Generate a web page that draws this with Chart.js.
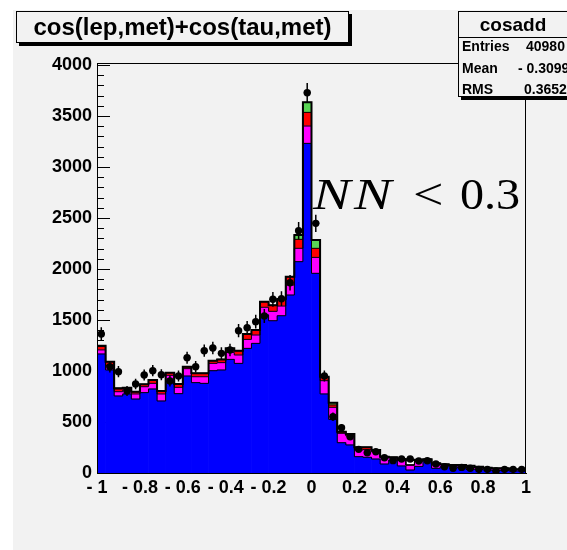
<!DOCTYPE html>
<html><head><meta charset="utf-8">
<script src="https://cdn.jsdelivr.net/npm/chart.js@4.4.0/dist/chart.umd.min.js"></script>
<style>
html,body{margin:0;padding:0;background:#fff;overflow:hidden;}
#wrap{position:relative;width:567px;height:550px;overflow:hidden;}
#c{position:absolute;left:0;top:0;}
.box{position:absolute;border:1px solid #000;background:#f2f2f2;box-shadow:3px 3px 0 #000;box-sizing:border-box;}
.t{position:absolute;font-family:"Liberation Sans",Arial,sans-serif;font-weight:bold;color:#000;line-height:1;white-space:nowrap;}
</style></head><body>
<div id="wrap">
<canvas id="c" width="567" height="550"></canvas>
<div class="box" style="left:16px;top:11px;width:333px;height:32px;"></div>
<div class="t" style="left:16px;top:15px;width:333px;text-align:center;font-size:24px;">cos(lep,met)+cos(tau,met)</div>
<div class="box" style="left:458px;top:11px;width:160px;height:86px;"></div>
<div style="position:absolute;left:458px;top:37px;width:120px;height:1px;background:#000;"></div>
<div class="t" style="left:458px;top:15px;width:110px;text-align:center;font-size:19px;">cosadd</div>
<div class="t" style="left:462px;top:39px;font-size:14px;">Entries</div>
<div class="t" style="left:526px;top:39px;font-size:14px;">40980</div>
<div class="t" style="left:462px;top:61px;font-size:14px;">Mean</div>
<div class="t" style="left:518px;top:61px;font-size:14px;">- 0.3099</div>
<div class="t" style="left:462px;top:82px;font-size:14px;">RMS</div>
<div class="t" style="left:524px;top:82px;font-size:14px;">0.3652</div>
</div>
<script>
const binCenters = [-0.98,-0.94,-0.90,-0.86,-0.82,-0.78,-0.74,-0.70,-0.66,-0.62,-0.58,-0.54,-0.50,-0.46,-0.42,-0.38,-0.34,-0.30,-0.26,-0.22,-0.18,-0.14,-0.10,-0.06,-0.02,0.02,0.06,0.10,0.14,0.18,0.22,0.26,0.30,0.34,0.38,0.42,0.46,0.50,0.54,0.58,0.62,0.66,0.70,0.74,0.78,0.82,0.86,0.90,0.94,0.98];
const blueVals = [1167,1010,755,775,725,788,824,706,899,778,951,886,879,1003,1010,1114,1075,1222,1271,1550,1493,1542,1745,2072,3232,1958,775,526,297,275,160,154,137,88,127,69,29,65,125,46,62,62,50,35,35,30,25,26,20,20];
const magentaVals = [40,45,42,40,50,58,55,69,59,62,72,58,65,72,72,69,82,88,82,75,92,95,98,131,170,156,130,118,92,88,65,75,70,60,20,55,49,50,9,32,18,12,20,17,17,15,15,15,12,12];
const redVals = [33,37,27,22,22,23,33,29,26,33,19,33,33,26,32,39,42,53,49,55,59,69,82,88,134,89,39,23,16,19,27,23,18,12,7,13,0,15,0,17,5,4,8,0,0,7,6,5,4,4];
const greenVals = [7,0,7,0,0,0,0,0,0,0,0,0,0,0,0,0,0,0,0,0,0,0,0,42,98,81,0,23,0,0,0,0,0,0,0,0,0,0,0,0,0,0,0,0,0,0,0,0,0,0];
const whiteVals = [0,0,0,0,0,0,0,0,0,0,0,0,0,0,0,0,0,0,0,0,0,0,0,0,0,0,0,0,0,0,0,0,0,0,0,0,49,0,0,0,0,0,0,20,10,0,0,0,0,0];
const dataVals = [1363,1042,993,804,873,961,1003,964,902,951,1131,1042,1199,1225,1173,1206,1395,1425,1484,1539,1703,1709,1866,2376,3729,2448,951,552,444,356,232,199,209,150,121,137,137,118,120,88,62,46,55,46,36,36,20,36,36,36];
const dataErrs = [65,56,55,50,52,54,55,54,53,54,59,56,60,61,60,61,65,66,67,69,72,72,76,85,95,85,54,41,37,33,27,25,25,21,19,20,20,19,19,16,14,12,13,12,10,10,8,10,10,10];
const xTickValues = [-1,-0.8,-0.6,-0.4,-0.2,0,0.2,0.4,0.6,0.8,1];
const xTickLabels = ['- 1','- 0.8','- 0.6','- 0.4','- 0.2','0','0.2','0.4','0.6','0.8','1'];
const yTickValues = [0,500,1000,1500,2000,2500,3000,3500,4000];

const PAD = '#f2f2f2';
const FONT = '"Liberation Sans", Arial, sans-serif';
const halfW = (binCenters[1] - binCenters[0]) / 2;

function cumulative(layers) {
  return binCenters.map((_, i) => layers.reduce((s, a) => s + a[i], 0));
}
function stepPoints(tops) {
  const n = binCenters.length;
  const pts = [{x: binCenters[0] - halfW, y: 0}];
  tops.forEach((t, i) => pts.push({x: binCenters[i] - halfW, y: t}));
  pts.push({x: binCenters[n - 1] + halfW, y: tops[n - 1]});
  pts.push({x: binCenters[n - 1] + halfW, y: 0});
  return pts;
}
function barDs(label, arr, color) {
  return {type: 'bar', label, data: binCenters.map((x, i) => ({x, y: arr[i]})),
    backgroundColor: color, borderWidth: 0, stack: 'mc', order: 3,
    barPercentage: 1, categoryPercentage: 1};
}
function outlineDs(label, tops, w) {
  return {type: 'line', label, data: stepPoints(tops), borderColor: '#000', borderWidth: w,
    pointRadius: 0, stepped: 'before', fill: false, order: 1, tension: 0};
}

const layers = [blueVals, magentaVals, redVals, greenVals, whiteVals];
const datasets = [
  {type: 'line', label: 'data', data: binCenters.map((x, i) => ({x, y: dataVals[i]})),
   showLine: false, pointRadius: 3.7, pointHoverRadius: 3.7, pointBackgroundColor: '#000',
   pointBorderWidth: 0, order: 0},
  barDs('blue', blueVals, '#0000ff'),
  barDs('magenta', magentaVals, '#ff00ff'),
  barDs('red', redVals, '#ff0000'),
  barDs('green', greenVals, '#59d454'),
  barDs('other', whiteVals, '#ffffff'),
  outlineDs('o1', cumulative([blueVals]), 1),
  outlineDs('o2', cumulative([blueVals, magentaVals]), 1),
  outlineDs('o3', cumulative([blueVals, magentaVals, redVals]), 1),
  outlineDs('o4', cumulative([blueVals, magentaVals, redVals, greenVals]), 1),
  outlineDs('o5', cumulative(layers), 2)
];

function scaledText(ctx, txt, x, y, sx) {
  ctx.save(); ctx.translate(x, y); ctx.scale(sx, 1); ctx.fillText(txt, 0, 0); ctx.restore();
}

const rootStyle = {
  id: 'rootStyle',
  beforeDraw(chart) {
    const ctx = chart.ctx;
    ctx.save();
    ctx.fillStyle = '#fff'; ctx.fillRect(0, 0, chart.width, chart.height);
    ctx.fillStyle = PAD; ctx.fillRect(13, 10, chart.width - 13, chart.height - 10);
    ctx.restore();
  },
  beforeDatasetsDraw(chart) {
    const y = chart.scales.y, a = chart.chartArea, ctx = chart.ctx;
    ctx.save(); ctx.strokeStyle = '#000'; ctx.lineWidth = 1;
    ctx.beginPath();
    for (let i = 0; i < yTickValues.length; i++) {
      const v = yTickValues[i];
      const py = Math.round(y.getPixelForValue(v)) + 0.5;
      ctx.moveTo(a.left, py); ctx.lineTo(a.left + 13, py);
      if (i < yTickValues.length - 1) {
        const st = (yTickValues[i + 1] - v) / 5;
        for (let k = 1; k < 5; k++) {
          const pm = Math.round(y.getPixelForValue(v + k * st)) + 0.5;
          ctx.moveTo(a.left, pm); ctx.lineTo(a.left + 7, pm);
        }
      }
    }
    ctx.stroke(); ctx.restore();
  },
  beforeDatasetDraw(chart, args) {
    if (chart.data.datasets[args.index].label !== 'data') return;
    const x = chart.scales.x, y = chart.scales.y, ctx = chart.ctx;
    ctx.save(); ctx.strokeStyle = '#000'; ctx.lineWidth = 1.5;
    ctx.beginPath();
    binCenters.forEach((c, i) => {
      const px = x.getPixelForValue(c);
      ctx.moveTo(px, y.getPixelForValue(dataVals[i] - dataErrs[i]));
      ctx.lineTo(px, y.getPixelForValue(dataVals[i] + dataErrs[i]));
      const py = y.getPixelForValue(dataVals[i]);
      ctx.moveTo(x.getPixelForValue(c - halfW * 0.8), py);
      ctx.lineTo(x.getPixelForValue(c + halfW * 0.8), py);
    });
    ctx.stroke(); ctx.restore();
  },
  afterDatasetsDraw(chart) {
    const a = chart.chartArea, ctx = chart.ctx;
    ctx.save(); ctx.strokeStyle = '#000'; ctx.lineWidth = 1;
    ctx.beginPath();
    ctx.moveTo(a.left + 0.5, a.bottom); ctx.lineTo(a.left + 0.5, a.top + 0.5);
    ctx.lineTo(a.right - 0.5, a.top + 0.5); ctx.lineTo(a.right - 0.5, a.bottom);
    ctx.stroke();
    ctx.fillStyle = '#000'; ctx.textBaseline = 'alphabetic';
    ctx.font = 'italic 45px "Liberation Serif", "DejaVu Serif", serif';
    scaledText(ctx, 'N', 313, 209, 1.25);
    scaledText(ctx, 'N', 354, 209, 1.25);
    ctx.font = '45px "Liberation Serif", "DejaVu Serif", serif';
    scaledText(ctx, '<', 413, 209, 1.2);
    scaledText(ctx, '0.3', 460, 209, 1.07);
    ctx.restore();
  }
};

new Chart(document.getElementById('c'), {
  type: 'bar',
  data: {datasets},
  plugins: [rootStyle],
  options: {
    responsive: false, animation: false, devicePixelRatio: 1,
    layout: {padding: {left: 0, right: 41, top: 63, bottom: 37}},
    plugins: {legend: {display: false}, tooltip: {enabled: false}, title: {display: false}},
    scales: {
      x: {
        type: 'linear', min: -1, max: 1, offset: false,
        grid: {display: false, offset: false, drawTicks: false},
        border: {display: true, color: '#000', width: 1},
        afterBuildTicks: (s) => { s.ticks = xTickValues.map(v => ({value: v})); },
        afterFit: (s) => { s.height = 40; },
        ticks: {autoSkip: false, maxRotation: 0, padding: 4, color: '#000',
          font: {family: FONT, size: 18, weight: 'bold'},
          callback: (v, i) => xTickLabels[i]}
      },
      y: {
        type: 'linear', min: 0, max: 4020,
        grid: {display: false, drawTicks: false},
        border: {display: true, color: '#000', width: 1},
        afterBuildTicks: (s) => { s.ticks = yTickValues.map(v => ({value: v})); },
        afterFit: (s) => { s.width = 97; },
        ticks: {padding: 5, color: '#000', font: {family: FONT, size: 18, weight: 'bold'},
          callback: (v) => String(v)}
      }
    }
  }
});
</script>
</body></html>
